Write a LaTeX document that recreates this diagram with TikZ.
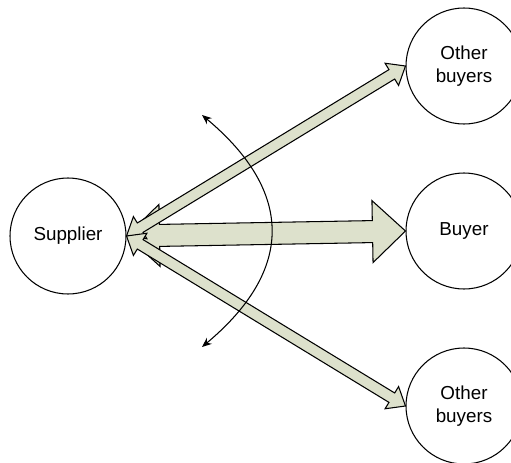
\documentclass[tikz,border=0pt]{standalone}
\usepackage{fontspec}
\setmainfont{Liberation Sans}
\usetikzlibrary{arrows.meta, calc}
\definecolor{flowcolor}{RGB}{221, 225, 204}

% two-headed block arrow: from, to, head length, head half width, shaft half width
\newcommand{\twowayarrow}[5]{%
  \draw[flowarrow] (#1)
    -- ($(#1)!#3!(#2)!#4!90:(#2)$) -- ($(#1)!#3!(#2)!#5!90:(#2)$)
    -- ($(#2)!#3!(#1)!#5!-90:(#1)$) -- ($(#2)!#3!(#1)!#4!-90:(#1)$)
    -- (#2)
    -- ($(#2)!#3!(#1)!#4!90:(#1)$) -- ($(#2)!#3!(#1)!#5!90:(#1)$)
    -- ($(#1)!#3!(#2)!#5!-90:(#2)$) -- ($(#1)!#3!(#2)!#4!-90:(#2)$)
    -- cycle;%
}

\tikzset{
  party/.style={draw, circle, line width=0.6pt, minimum size=2.32cm, inner sep=0pt,
    align=center, font=\fontsize{10.7}{13}\selectfont},
  flowarrow/.style={draw, fill=flowcolor, line width=0.6pt, line join=miter},
  swing/.style={{Stealth[length=5.5pt, width=4.5pt]}-{Stealth[length=5.5pt, width=4.5pt]}, line width=0.6pt}
}

\begin{document}
\begin{tikzpicture}[x=0.02cm, y=-0.02cm]
    \useasboundingbox (0,0) rectangle (511,463);

    % Parties
    \node[party] (sup) at (68,236) {Supplier};
    \node[party] (oth1) at (464,66) {Other\\buyers};
    \node[party] (buy) at (464,231) {Buyer};
    \node[party] (oth2) at (464,406) {Other\\buyers};

    % Flows between supplier and buyers
    \twowayarrow{sup.east}{buy.west}{0.66cm}{0.62cm}{0.22cm}
    \twowayarrow{sup.east}{oth1.west}{0.32cm}{0.26cm}{0.11cm}
    \twowayarrow{sup.east}{oth2.west}{0.32cm}{0.26cm}{0.11cm}

    % Swing between buyers
    \coordinate (ctop) at (202,115);
    \coordinate (cbot) at (202,347);
    \draw[swing] (ctop) .. controls (294,192) and (294,270) .. (cbot);
\end{tikzpicture}
\end{document}
